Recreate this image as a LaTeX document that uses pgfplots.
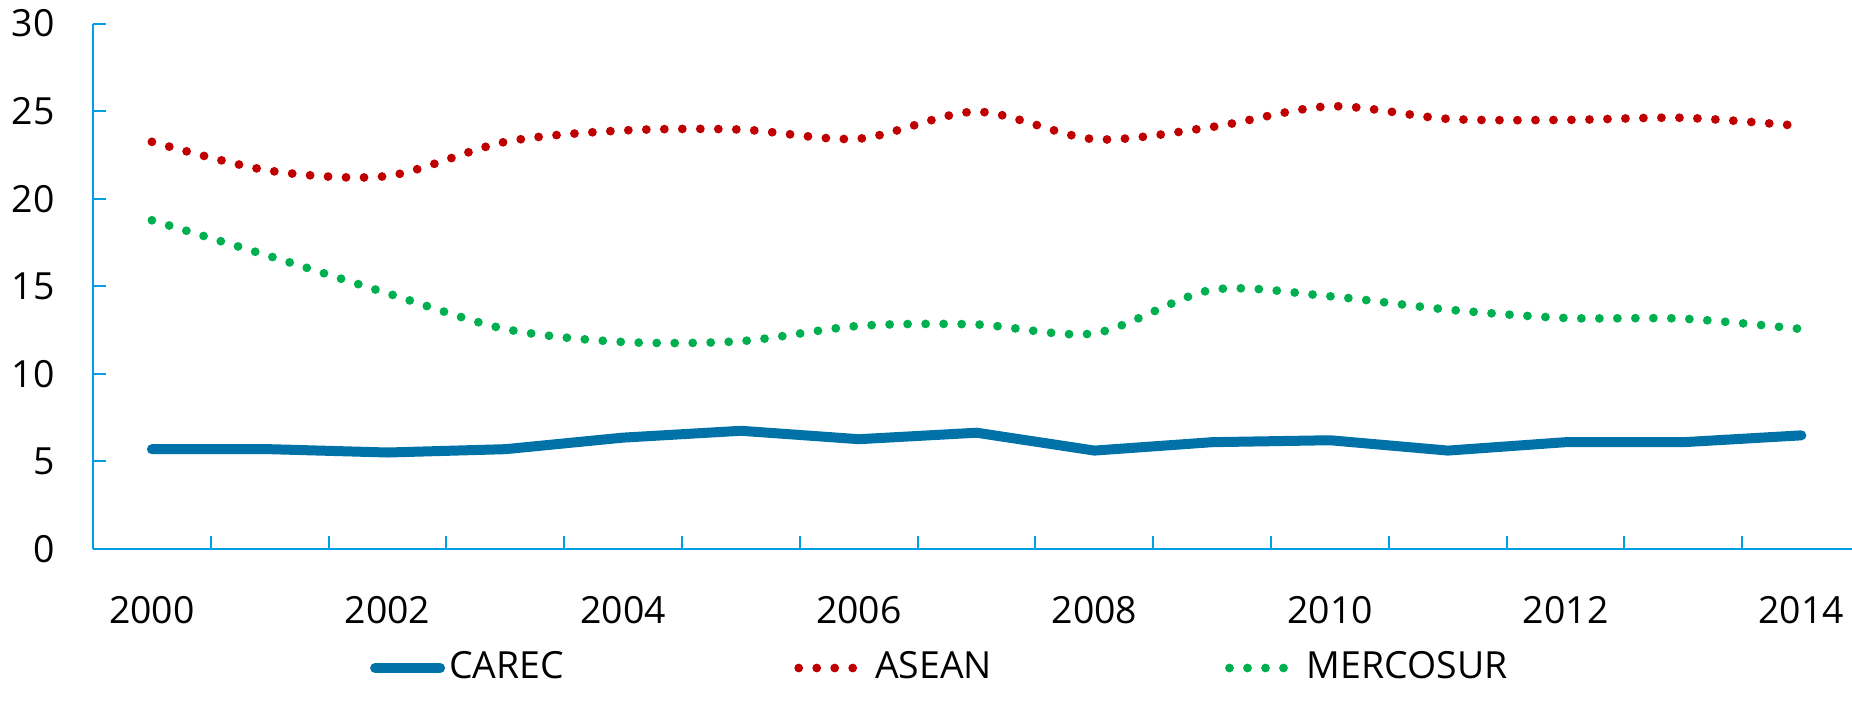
\documentclass[border=0pt]{standalone}
\usepackage{pgfplots}
\pgfplotsset{compat=1.18}
\usepackage{fontspec}
\setmainfont{Open Sans}
\definecolor{axblue}{RGB}{0,160,227}
\definecolor{carec}{RGB}{0,114,168}
\definecolor{asean}{RGB}{192,0,0}
\definecolor{merco}{RGB}{0,176,80}
\begin{document}
\fontsize{18.7}{22.4}\selectfont
\begin{tikzpicture}[font=\fontsize{18.7}{22.4}\selectfont]
\path[use as bounding box] (-46.5pt,-79.5pt) rectangle (879.5pt,274.5pt);
\begin{axis}[
  at={(0,0)}, anchor=south west,
  scale only axis, width=879.5pt, height=262.7pt,
  xmin=1999.5, xmax=2014.43, ymin=0, ymax=30,
  axis x line=bottom, axis y line=left,
  axis line style={-, draw=axblue, line width=1pt},
  ytick={0,5,...,30},
  xtick={2000,2002,...,2014},
  minor xtick={2000.5,2001.5,...,2013.5},
  tick align=inside,
  major tick length=6.5pt, minor tick length=6.5pt,
  tick style={draw=axblue, line width=1pt},
  major x tick style={draw=none},
  /pgf/number format/1000 sep={},
  /pgf/number format/assume math mode=true,
  yticklabel style={anchor=east, inner sep=0pt, xshift=-19pt},
  xticklabel style={anchor=north, inner sep=0pt, yshift=-23.5pt},
  legend columns=3,
  legend cell align=left,
  legend style={draw=none, fill=none, at={(axis description cs:0.1573,-0.2265)}, anchor=west, inner sep=0pt},
  legend image code/.code={\draw[#1] (2.5pt,0pt) -- (35pt,0pt);},
]
\addplot[carec, line width=5pt, line cap=round, line join=round] coordinates {
(2000,5.70) (2001,5.70) (2002,5.51) (2003,5.70) (2004,6.36) (2005,6.75) (2006,6.27) (2007,6.64)
(2008,5.62) (2009,6.10) (2010,6.21) (2011,5.62) (2012,6.10) (2013,6.10) (2014,6.49)};
\addlegendentry{\makebox[170.6pt][l]{CAREC}}
\addplot[asean, line width=4.4pt, line cap=round, dash pattern=on 0pt off 9pt, smooth] coordinates {
(2000,23.25) (2001,21.6) (2002,21.3) (2003,23.25) (2004,23.9) (2005,23.95) (2006,23.43) (2007,24.97)
(2008,23.4) (2009,24.1) (2010,25.28) (2011,24.56) (2012,24.5) (2013,24.62) (2014,24.15)};
\addlegendentry{\hspace{1.5pt}\makebox[173pt][l]{ASEAN}}
\addplot[merco, line width=4.4pt, line cap=round, dash pattern=on 0pt off 9pt, smooth] coordinates {
(2000,18.77) (2001,16.72) (2002,14.6) (2003,12.56) (2004,11.82) (2005,11.87) (2006,12.74) (2007,12.82)
(2008,12.32) (2009,14.80) (2010,14.43) (2011,13.67) (2012,13.19) (2013,13.15) (2014,12.56)};
\addlegendentry{\hspace{2pt}MERCOSUR}
\end{axis}
\end{tikzpicture}
\end{document}
